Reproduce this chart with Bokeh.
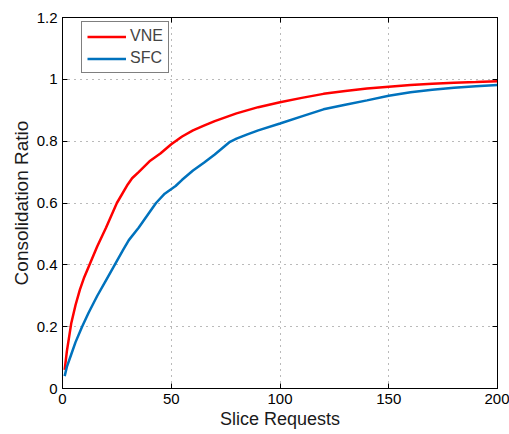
from bokeh.plotting import figure
from bokeh.models import LinearAxis, Legend, LegendItem, FixedTicker, Range1d, CustomLabelingPolicy
from bokeh.embed import file_html
from bokeh.resources import INLINE

vne_x = [1, 2, 4, 6, 8, 10, 13, 16, 20, 25, 30, 32, 35, 40, 45, 50, 55, 60, 65, 70,
         80, 90, 100, 110, 120, 130, 140, 150, 160, 170, 180, 190, 200]
vne_y = [0.06, 0.12, 0.21, 0.27, 0.32, 0.36, 0.41, 0.46, 0.52, 0.60, 0.66, 0.68, 0.70,
         0.735, 0.76, 0.79, 0.815, 0.835, 0.85, 0.865, 0.89, 0.91, 0.926, 0.94, 0.953,
         0.962, 0.97, 0.976, 0.982, 0.986, 0.989, 0.991, 0.994]

sfc_x = [1, 2, 4, 6, 9, 12, 16, 20, 24, 28, 30.5, 35, 40, 43, 47, 52, 55, 60, 65, 70,
         77, 80, 85, 90, 100, 110, 120, 130, 140, 150, 160, 170, 180, 190, 200]
sfc_y = [0.04, 0.07, 0.11, 0.15, 0.20, 0.245, 0.30, 0.35, 0.40, 0.45, 0.48, 0.52, 0.57,
         0.60, 0.63, 0.655, 0.675, 0.705, 0.73, 0.757, 0.798, 0.808, 0.822, 0.835, 0.857,
         0.88, 0.903, 0.918, 0.932, 0.947, 0.958, 0.966, 0.973, 0.978, 0.982]

x_ticks = [0, 50, 100, 150, 200]
y_ticks = [0, 0.2, 0.4, 0.6, 0.8, 1.0, 1.2]
y_labels = {0: "0", 0.2: "0.2", 0.4: "0.4", 0.6: "0.6", 0.8: "0.8", 1.0: "1", 1.2: "1.2"}

FONT = "Liberation Sans"

p = figure(width=509, height=434, output_backend="svg", toolbar_location=None,
           x_range=Range1d(0, 200), y_range=Range1d(0, 1.2),
           x_axis_label="Slice Requests", y_axis_label="Consolidation Ratio",
           min_border_left=62, min_border_right=12, min_border_top=17, min_border_bottom=46)
p.outline_line_color = "black"
p.outline_line_width = 1
p.background_fill_color = "white"
p.border_fill_color = "white"

p.xaxis.ticker = FixedTicker(ticks=x_ticks)
p.yaxis.ticker = FixedTicker(ticks=y_ticks)
p.yaxis.major_label_overrides = y_labels

for ax in p.xaxis + p.yaxis:
    ax.major_tick_in = 5
    ax.major_tick_out = 0
    ax.minor_tick_in = 0
    ax.minor_tick_out = 0
    ax.major_label_text_font = FONT
    ax.major_label_text_font_size = "15px"
    ax.major_label_text_color = "black"
    ax.axis_label_text_font = FONT
    ax.axis_label_text_font_style = "normal"
    ax.axis_label_text_color = "#1a1a1a"
    ax.axis_line_color = "black"
    ax.major_tick_line_color = "black"
p.xaxis.axis_label_text_font_size = "18px"
p.yaxis.axis_label_text_font_size = "19px"
p.xaxis.major_label_standoff = 5
p.yaxis.major_label_standoff = 5
p.xaxis.axis_label_standoff = 2
p.yaxis.axis_label_standoff = 2

no_labels = CustomLabelingPolicy(code="return new Set()")
for loc in ["right", "above"]:
    ax = LinearAxis(ticker=FixedTicker(ticks=x_ticks if loc == "above" else y_ticks))
    ax.major_tick_in = 5
    ax.major_tick_out = 0
    ax.minor_tick_in = 0
    ax.minor_tick_out = 0
    ax.major_label_policy = no_labels
    ax.major_label_text_font_size = "0px"
    ax.major_label_standoff = 0
    ax.axis_label_standoff = 0
    ax.axis_line_color = "black"
    p.add_layout(ax, loc)

for g in [p.xgrid[0], p.ygrid[0]]:
    g.grid_line_color = "#666666"
    g.grid_line_dash = "1 5"
    g.grid_line_width = 1
    g.grid_line_alpha = 0.9

r1 = p.line(vne_x, vne_y, line_color="#ff0000", line_width=2.5)
r2 = p.line(sfc_x, sfc_y, line_color="#0072bd", line_width=2.5)

legend = Legend(items=[LegendItem(label="VNE", renderers=[r1]),
                       LegendItem(label="SFC", renderers=[r2])],
                location=(19, 315))
legend.border_line_color = "black"
legend.border_line_width = 1
legend.label_text_font = FONT
legend.label_text_font_size = "16px"
legend.glyph_width = 39
legend.glyph_height = 17
legend.label_height = 17
legend.spacing = 4
legend.padding = 5
legend.label_standoff = 4
legend.margin = 0
p.add_layout(legend, "center")

open("out.html", "w").write(file_html(p, INLINE))
